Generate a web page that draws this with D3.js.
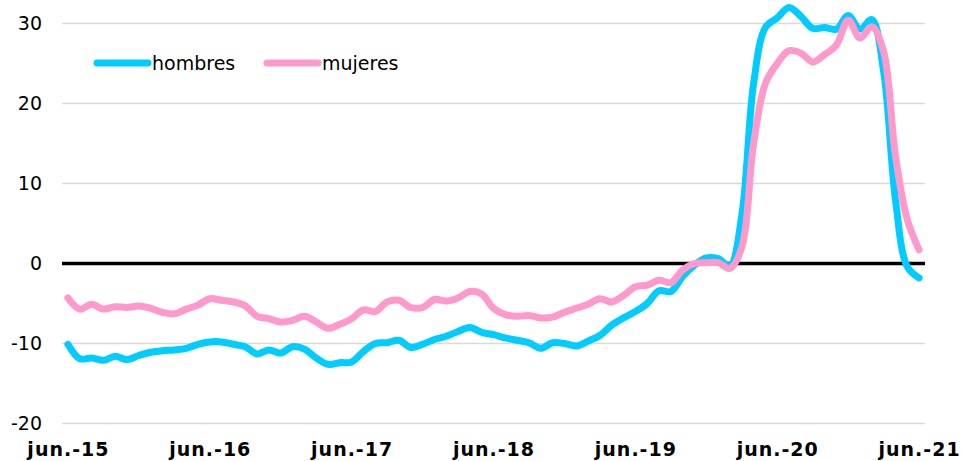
<!DOCTYPE html>
<html>
<head>
<meta charset="utf-8">
<script src="https://cdn.jsdelivr.net/npm/d3@7"></script>
<style>
body { margin: 0; background: #fff; }
text { font-family: "DejaVu Sans", Verdana, sans-serif; fill: #000; }
</style>
</head>
<body>
<svg id="chart" width="961" height="461"></svg>
<script>
// monthly series, jun-15 .. jun-21
var hombres = [
 -10.1, -11.9, -11.8, -12.1, -11.6, -12.0, -11.5, -11.1, -10.9, -10.8, -10.6, -10.1,
 -9.8, -9.8, -10.1, -10.4, -11.3, -10.8, -11.2, -10.4, -10.7, -11.8, -12.6, -12.4,
 -12.3, -11.0, -10.0, -9.9, -9.6, -10.5, -10.1, -9.5, -9.1, -8.5, -8.0, -8.6,
 -8.9, -9.3, -9.6, -9.9, -10.6, -9.9, -10.0, -10.3, -9.7, -9.0, -7.7, -6.8,
 -6.0, -5.0, -3.4, -3.5, -1.6, -0.2, 0.7, 0.6, -0.3, 6.0, 22.5, 29.5,
 30.7, 32.0, 30.9, 29.4, 29.5, 29.3, 31.0, 29.3, 30.5, 24.0, 8.0, -0.4,
 -1.8
];
var mujeres = [
 -4.3, -5.7, -5.1, -5.7, -5.4, -5.5, -5.3, -5.6, -6.1, -6.3, -5.7, -5.2,
 -4.4, -4.6, -4.8, -5.3, -6.6, -6.9, -7.3, -7.1, -6.6, -7.3, -8.1, -7.6,
 -6.9, -5.8, -6.0, -4.8, -4.6, -5.5, -5.5, -4.5, -4.7, -4.3, -3.5, -3.8,
 -5.6, -6.4, -6.6, -6.5, -6.8, -6.7, -6.1, -5.6, -5.1, -4.4, -4.8, -4.0,
 -2.9, -2.7, -2.1, -2.4, -0.8, 0.0, 0.1, 0.1, -0.6, 2.0, 15.0, 22.5,
 25.0, 26.6, 26.3, 25.2, 26.1, 27.3, 30.4, 28.2, 29.6, 26.5, 13.5, 5.5,
 1.7
];
var yTicks = [-20, -10, 0, 10, 20, 30];
var xTickLabels = ["jun.-15", "jun.-16", "jun.-17", "jun.-18", "jun.-19", "jun.-20", "jun.-21"];
var seriesNames = ["hombres", "mujeres"];
var colors = ["#00CCFF", "#FF99CC"];

var svg = d3.select("#chart");
var months = d3.range(hombres.length);

var x = d3.scalePoint().domain(months).range([62, 925]).padding(0.5);
var y = d3.scaleLinear().domain([-20, 30]).range([423.5, 23.5]);

// gridlines
svg.append("g").selectAll("line").data(yTicks.filter(function(d) { return d != 0; }))
  .enter().append("line")
  .attr("x1", 62).attr("x2", 925)
  .attr("y1", function(d) { return y(d); }).attr("y2", function(d) { return y(d); })
  .attr("stroke", "#d9d9d9").attr("stroke-width", 1.5);

// y axis labels (plain hyphen for negatives, as in the original)
var yAxis = d3.axisLeft(y).tickValues(yTicks).tickFormat(function(d) { return String(d); })
  .tickSize(0).tickPadding(0);
var gy = svg.append("g").attr("transform", "translate(42,0)").call(yAxis);
gy.select(".domain").remove();
gy.selectAll("text").style("font-size", "19px").style("font-family", "DejaVu Sans, sans-serif").attr("fill", "#000");

// x axis labels
var xAxis = d3.axisBottom(x)
  .tickValues(months.filter(function(d) { return d % 12 == 0; }))
  .tickFormat(function(d) { return xTickLabels[d / 12]; })
  .tickSize(0).tickPadding(0);
var gx = svg.append("g").attr("transform", "translate(0,442)").call(xAxis);
gx.select(".domain").remove();
gx.selectAll("text").style("font-size", "19px").style("font-weight", "bold")
  .style("letter-spacing", "1px").style("font-family", "DejaVu Sans, sans-serif").attr("fill", "#000");

// zero line
svg.append("line")
  .attr("x1", 62).attr("x2", 925)
  .attr("y1", y(0)).attr("y2", y(0))
  .attr("stroke", "#000").attr("stroke-width", 3.5);

var line = d3.line()
  .x(function(d, i) { return x(i); })
  .y(function(d) { return y(d); })
  .curve(d3.curveCatmullRom.alpha(0.5));

[hombres, mujeres].forEach(function(s, k) {
  svg.append("path")
    .datum(s)
    .attr("fill", "none")
    .attr("stroke", colors[k])
    .attr("stroke-width", 7)
    .attr("stroke-linecap", "round")
    .attr("stroke-linejoin", "round")
    .attr("d", line);
});

// legend
var legend = [[97, 148, 152], [267, 318, 322]];
seriesNames.forEach(function(n, k) {
  var g = svg.append("g");
  g.append("line")
    .attr("x1", legend[k][0]).attr("x2", legend[k][1])
    .attr("y1", 63).attr("y2", 63)
    .attr("stroke", colors[k]).attr("stroke-width", 7).attr("stroke-linecap", "round");
  g.append("text")
    .attr("x", legend[k][2]).attr("y", 70)
    .style("font-size", "19px")
    .text(n);
});
</script>
</body>
</html>
